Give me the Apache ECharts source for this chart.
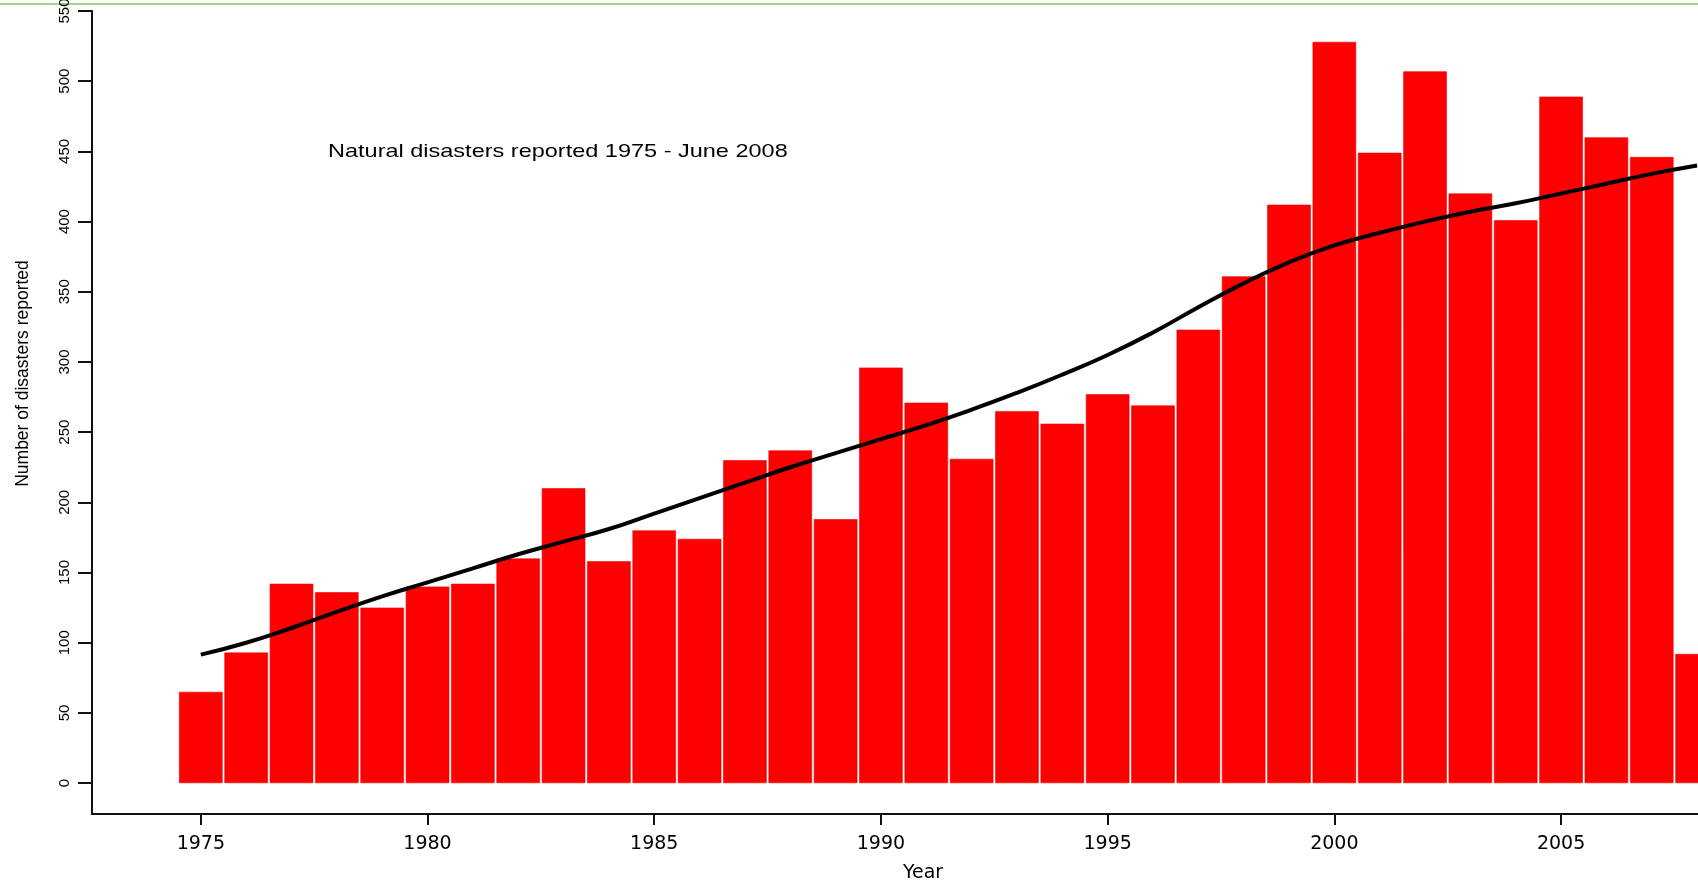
<!DOCTYPE html>
<html>
<head>
<meta charset="utf-8">
<script src="https://cdn.jsdelivr.net/npm/echarts@6/dist/echarts.min.js"></script>
<style>
  html, body { margin: 0; padding: 0; background: #ffffff; }
  #chart { width: 1698px; height: 887px; }
</style>
</head>
<body>
<div id="chart"></div>
<script>
// ---- data ----
const years = [1975,1976,1977,1978,1979,1980,1981,1982,1983,1984,1985,1986,1987,1988,1989,1990,1991,1992,1993,1994,1995,1996,1997,1998,1999,2000,2001,2002,2003,2004,2005,2006,2007,2008];
const disasters = [65,93,142,136,125,140,142,160,210,158,180,174,230,237,188,296,271,231,265,256,277,269,323,361,412,528,449,507,420,401,489,460,446,92];
const trend = [91.5,100,110.5,122,133,143,153,163,172,181,192,203,214,225,235,245,255,266,278,291,305,321,339,356,371,383,392,400,407,413,420,427,434,440];
const xTicks = [1975,1980,1985,1990,1995,2000,2005];
const yTicks = [0,50,100,150,200,250,300,350,400,450,500,550];
const annotation = 'Natural disasters reported 1975 - June 2008';
const xTitle = 'Year';
const yTitle = 'Number of disasters reported';

const barData = years.map((y, i) => [y, disasters[i]]);
const lineData = years.map((y, i) => [y, trend[i]]);

const chart = echarts.init(document.getElementById('chart'), null, { renderer: 'canvas' });
chart.setOption({
  animation: false,
  backgroundColor: '#ffffff',
  grid: { left: 92, right: 0, top: 11, bottom: 73, containLabel: false, outerBoundsMode: 'none' },
  xAxis: {
    type: 'value',
    min: 1972.6,
    max: 2008.02,
    name: xTitle,
    nameLocation: 'middle',
    nameGap: 50,
    nameTextStyle: { fontFamily: 'DejaVu Sans', fontSize: 19, color: '#000', padding: [0, 0, 0, 56] },
    axisLine: { show: true, onZero: false, lineStyle: { color: '#111', width: 2 } },
    axisTick: { show: true, length: 11, lineStyle: { color: '#111', width: 2 }, customValues: xTicks },
    axisLabel: { fontFamily: 'DejaVu Sans', fontSize: 19, color: '#000', margin: 21, customValues: xTicks,
                 formatter: v => String(Math.round(v)) },
    splitLine: { show: false }
  },
  yAxis: {
    type: 'value',
    min: -22,
    max: 550,
    name: yTitle,
    nameLocation: 'middle',
    nameRotate: 90,
    nameGap: 60,
    nameTextStyle: { fontFamily: 'Liberation Sans', fontSize: 17.5, color: '#000', padding: [0, 0, 0, 78] },
    axisLine: { show: true, onZero: false, lineStyle: { color: '#111', width: 2 } },
    axisTick: { show: true, length: 14, lineStyle: { color: '#111', width: 2 }, customValues: yTicks },
    axisLabel: { rotate: 90, fontFamily: 'Liberation Sans', fontSize: 15, color: '#000', margin: 20, customValues: yTicks,
                 formatter: v => String(Math.round(v)) },
    splitLine: { show: false }
  },
  graphic: [
    { type: 'rect', shape: { x: 0, y: 3, width: 1698, height: 2 }, style: { fill: '#a9d18e' }, silent: true },
    { type: 'text', x: 328, y: 152, scaleX: 1.27, style: { text: annotation, font: '18.5px "Liberation Sans"', fill: '#000', verticalAlign: 'middle', align: 'left' }, silent: true }
  ],
  series: [
    {
      type: 'bar',
      data: barData,
      barWidth: 43.5,
      itemStyle: { color: '#ff0000', borderColor: '#e80000', borderWidth: 0.6 },
      clip: true,
      z: 2
    },
    {
      type: 'line',
      data: lineData,
      smooth: true,
      showSymbol: false,
      lineStyle: { color: '#000000', width: 4 },
      clip: true,
      z: 3
    }
  ]
});
</script>
</body>
</html>
